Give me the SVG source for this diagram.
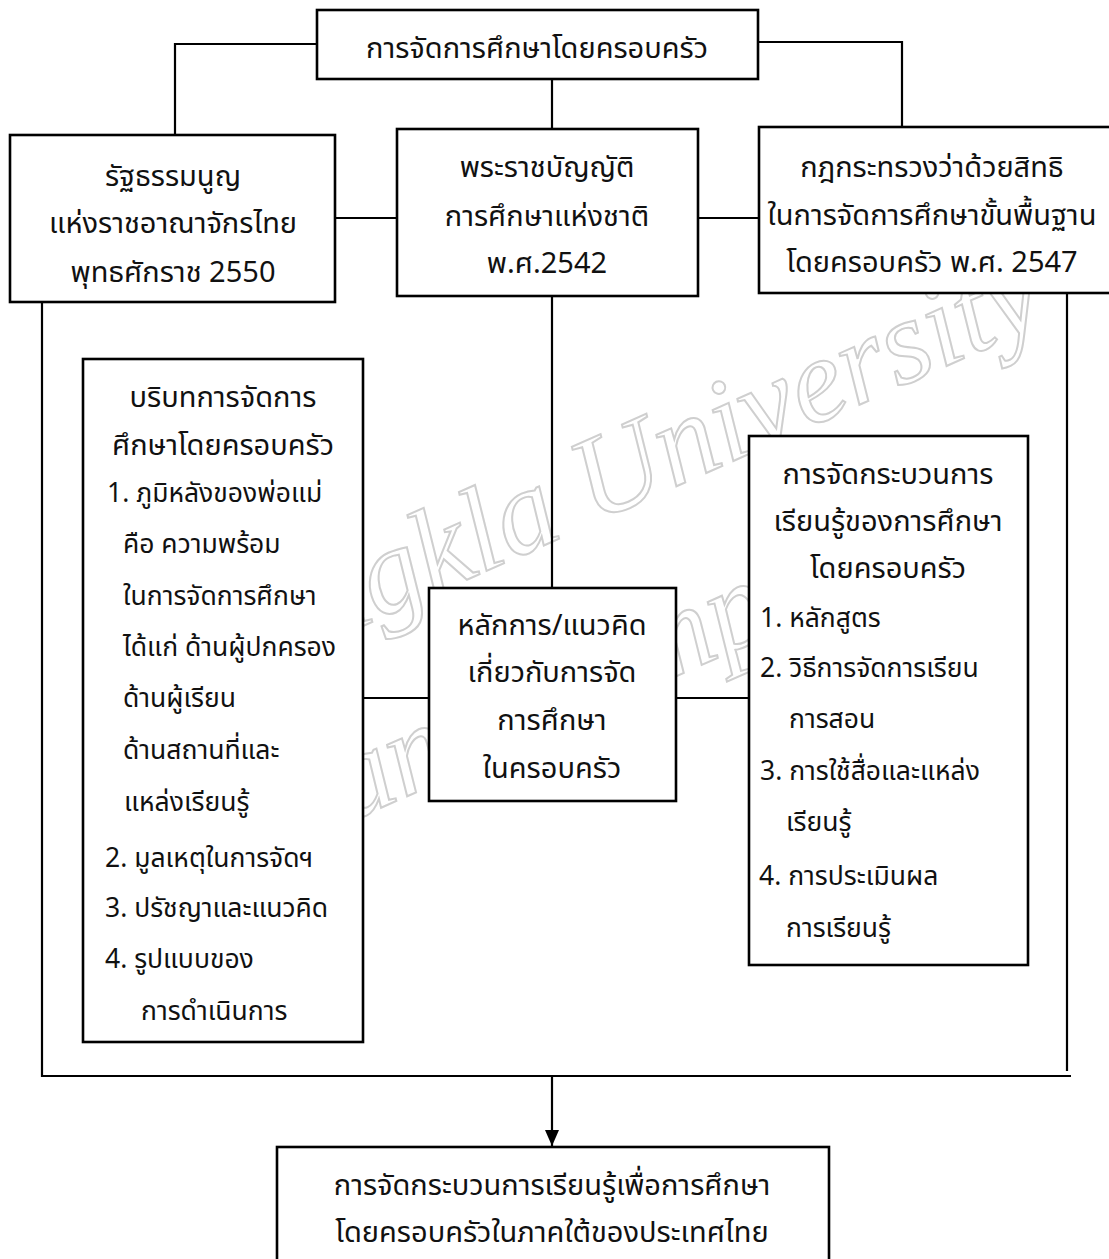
<svg xmlns="http://www.w3.org/2000/svg" width="1109" height="1259" viewBox="0 0 1109 1259">
<style>
.box{fill:#fff;stroke:#000;stroke-width:2.6}
.ln{fill:none;stroke:#000;stroke-width:2.2}
.t{font-family:"Leelawadee UI","Noto Sans Thai","Noto Sans Thai UI",Tahoma,"Noto Sans",sans-serif;font-size:29px;fill:#111}
.s{font-size:26.5px}
.c{text-anchor:middle}
.wm{font-family:"Liberation Serif",serif;font-style:italic;font-size:120px;fill:#fff;stroke:#cfcfcf;stroke-width:2}
</style>
<defs>
<marker id="ah" viewBox="0 0 16 14" refX="16" refY="7" markerWidth="16" markerHeight="14" markerUnits="userSpaceOnUse" orient="auto">
<path d="M0,0 L16,7 L0,14 Z" fill="#000"/>
</marker>
</defs>
<rect width="1109" height="1259" fill="#fff"/>
<g id="watermark">
<text class="wm" transform="translate(1050,320) rotate(-24)" x="0" y="0" text-anchor="end">Songkla University</text>
<text class="wm" transform="translate(1065,350) rotate(-24)" x="-270" y="140" text-anchor="end">Pattani Campus</text>
</g>
<g id="connectors">
<polyline class="ln" points="317,44 175,44 175,135"/>
<polyline class="ln" points="758,42 902,42 902,127"/>
<line class="ln" x1="552" y1="79" x2="552" y2="129"/>
<line class="ln" x1="335" y1="218" x2="397" y2="218"/>
<line class="ln" x1="698" y1="218" x2="759" y2="218"/>
<line class="ln" x1="552" y1="296" x2="552" y2="588"/>
<line class="ln" x1="363" y1="698" x2="429" y2="698"/>
<line class="ln" x1="676" y1="698" x2="749" y2="698"/>
<polyline class="ln" points="42,302 42,1076 1071,1076"/>
<line class="ln" x1="1067" y1="293" x2="1067" y2="1071"/>
<line class="ln" x1="552" y1="1076" x2="552" y2="1146" marker-end="url(#ah)"/>
</g>
<g id="n-top">
<rect class="box" x="317" y="10" width="441" height="69"/>
<text class="t c" x="537" y="58">การจัดการศึกษาโดยครอบครัว</text>
</g>
<g id="n-constitution">
<rect class="box" x="10" y="135" width="325" height="167"/>
<text class="t c" x="173" y="186">รัฐธรรมนูญ</text>
<text class="t c" x="173" y="233">แห่งราชอาณาจักรไทย</text>
<text class="t c" x="173" y="282">พุทธศักราช 2550</text>
</g>
<g id="n-act">
<rect class="box" x="397" y="129" width="301" height="167"/>
<text class="t c" x="547" y="177">พระราชบัญญัติ</text>
<text class="t c" x="547" y="226">การศึกษาแห่งชาติ</text>
<text class="t c" x="547" y="273">พ.ศ.2542</text>
</g>
<g id="n-regulation">
<rect class="box" x="759" y="127" width="360" height="166"/>
<text class="t c" x="932" y="177">กฎกระทรวงว่าด้วยสิทธิ</text>
<text class="t c" x="932" y="225">ในการจัดการศึกษาขั้นพื้นฐาน</text>
<text class="t c" x="932" y="272">โดยครอบครัว พ.ศ. 2547</text>
</g>
<g id="n-context">
<rect class="box" x="83" y="359" width="280" height="683"/>
<text class="t c" x="223" y="407">บริบทการจัดการ</text>
<text class="t c" x="223" y="455">ศึกษาโดยครอบครัว</text>
<text class="t s" x="107" y="502">1. ภูมิหลังของพ่อแม่</text>
<text class="t s" x="123" y="553">คือ ความพร้อม</text>
<text class="t s" x="123" y="605">ในการจัดการศึกษา</text>
<text class="t s" x="123" y="656">ได้แก่ ด้านผู้ปกครอง</text>
<text class="t s" x="123" y="707">ด้านผู้เรียน</text>
<text class="t s" x="123" y="759">ด้านสถานที่และ</text>
<text class="t s" x="124" y="811">แหล่งเรียนรู้</text>
<text class="t s" x="105" y="867">2. มูลเหตุในการจัดฯ</text>
<text class="t s" x="105" y="917">3. ปรัชญาและแนวคิด</text>
<text class="t s" x="105" y="968">4. รูปแบบของ</text>
<text class="t s" x="141" y="1020">การดำเนินการ</text>
</g>
<g id="n-principle">
<rect class="box" x="429" y="588" width="247" height="213"/>
<text class="t c" x="552" y="635">หลักการ/แนวคิด</text>
<text class="t c" x="552" y="682">เกี่ยวกับการจัด</text>
<text class="t c" x="552" y="730">การศึกษา</text>
<text class="t c" x="552" y="778">ในครอบครัว</text>
</g>
<g id="n-process">
<rect class="box" x="749" y="436" width="279" height="529"/>
<text class="t c" x="888" y="484">การจัดกระบวนการ</text>
<text class="t c" x="888" y="531">เรียนรู้ของการศึกษา</text>
<text class="t c" x="888" y="578">โดยครอบครัว</text>
<text class="t s" x="760" y="627">1. หลักสูตร</text>
<text class="t s" x="760" y="677">2. วิธีการจัดการเรียน</text>
<text class="t s" x="789" y="728">การสอน</text>
<text class="t s" x="760" y="780">3. การใช้สื่อและแหล่ง</text>
<text class="t s" x="786" y="831">เรียนรู้</text>
<text class="t s" x="759" y="885">4. การประเมินผล</text>
<text class="t s" x="786" y="937">การเรียนรู้</text>
</g>
<g id="n-result">
<rect class="box" x="277" y="1147" width="552" height="130"/>
<text class="t c" x="552" y="1195">การจัดกระบวนการเรียนรู้เพื่อการศึกษา</text>
<text class="t c" x="552" y="1242">โดยครอบครัวในภาคใต้ของประเทศไทย</text>
</g>
</svg>
